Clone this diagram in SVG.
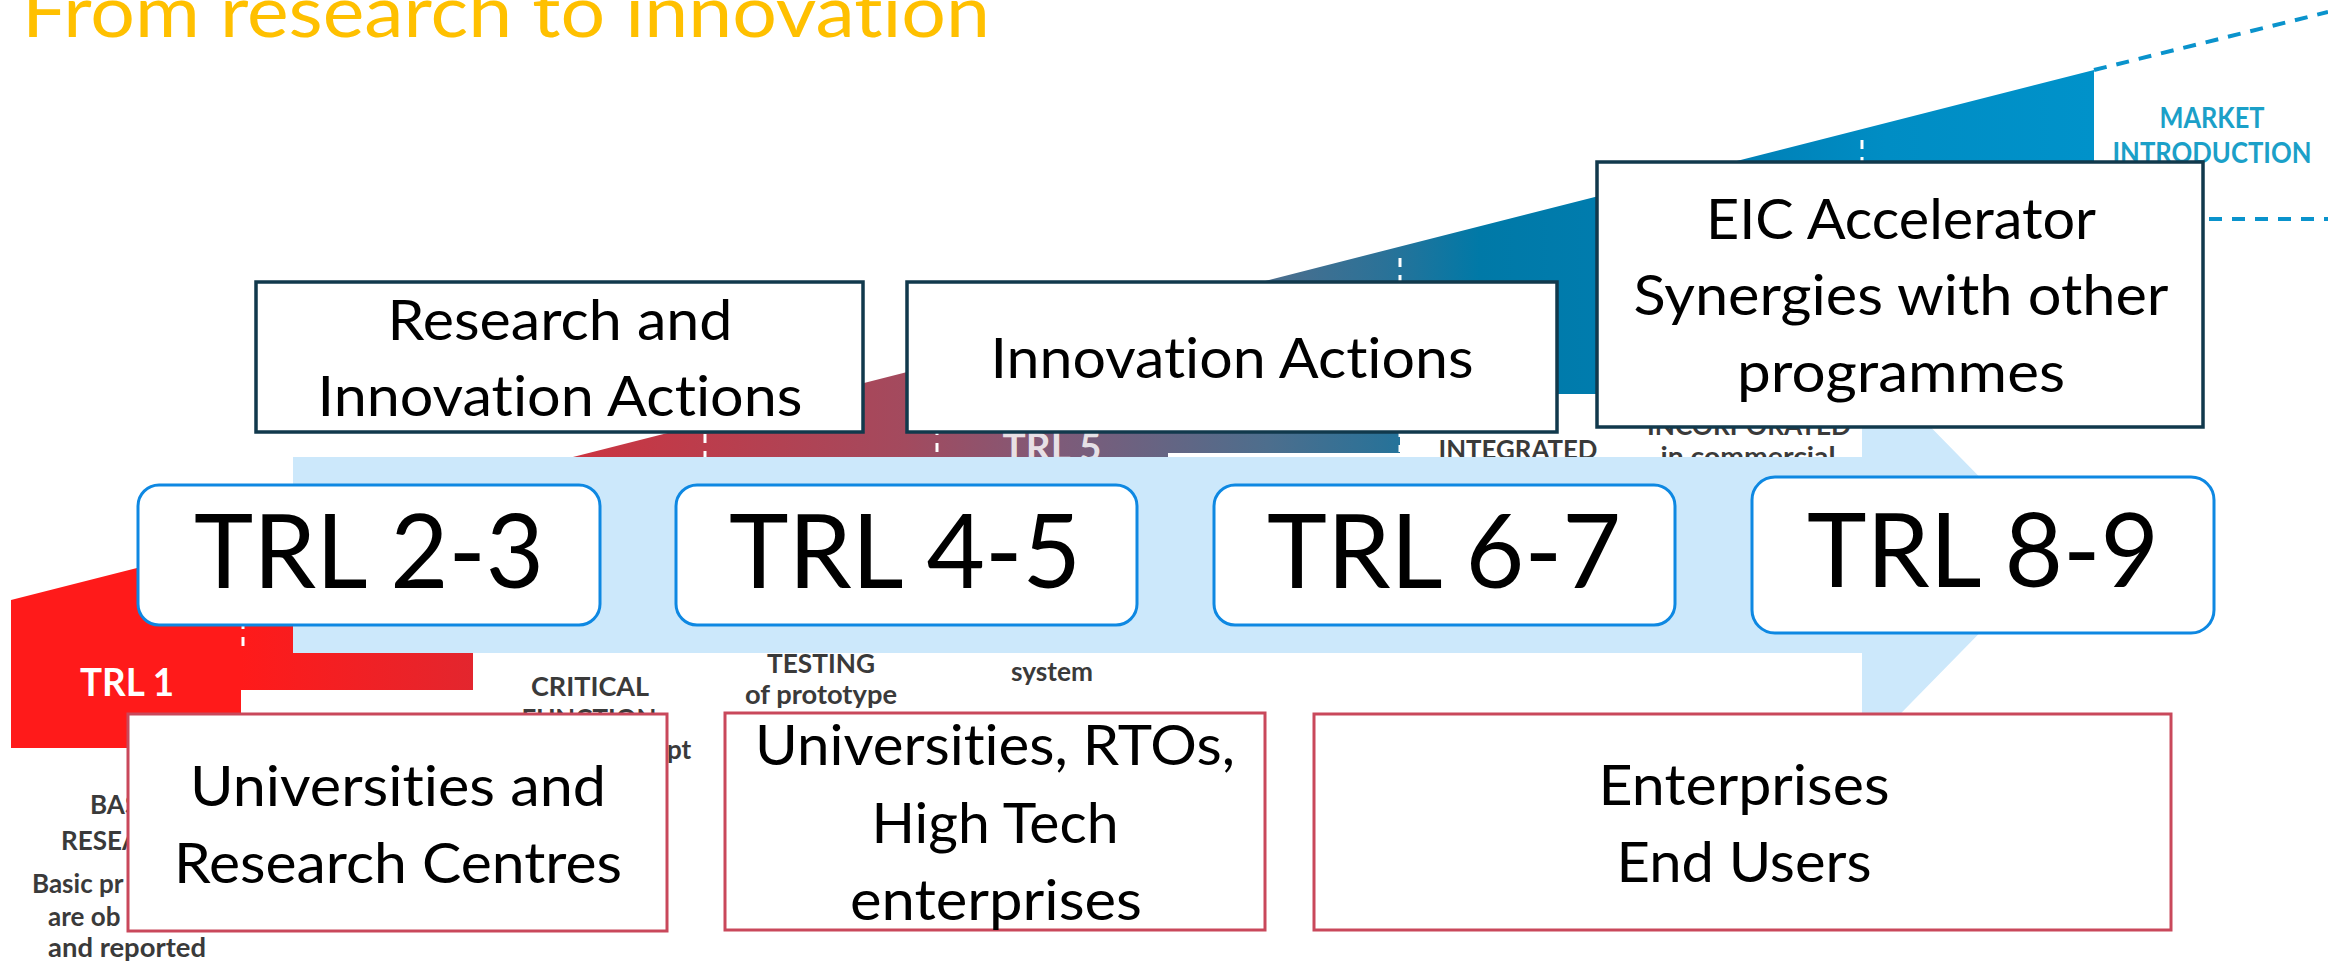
<svg xmlns="http://www.w3.org/2000/svg" width="2328" height="965" viewBox="0 0 2328 965">
<defs>
<linearGradient id="trlGrad" gradientUnits="userSpaceOnUse" x1="11" y1="0" x2="2094" y2="0">
<stop offset="0.11" stop-color="#FF1A1A"/>
<stop offset="0.222" stop-color="#E3262E"/>
<stop offset="0.268" stop-color="#CC3440"/>
<stop offset="0.429" stop-color="#A34A5E"/>
<stop offset="0.499" stop-color="#805A78"/>
<stop offset="0.603" stop-color="#4D6E8D"/>
<stop offset="0.66" stop-color="#2A7298"/>
<stop offset="0.705" stop-color="#0079A7"/>
<stop offset="0.83" stop-color="#0080B6"/>
<stop offset="0.9" stop-color="#008DC4"/>
<stop offset="1" stop-color="#0092CA"/>
</linearGradient>
<style>
text{font-variant-ligatures:none}
.t{font-family:Lato,"Noto Sans","Liberation Sans",sans-serif;text-anchor:middle;fill:#000}
.lbl{font-size:56px}
.trl{font-size:103px}
.trlbox{fill:#fff;stroke:#0E88E2;stroke-width:3}
.prog{fill:#fff;stroke:#11394C;stroke-width:3.5}
.actor{fill:#fff;stroke:#C9485B;stroke-width:3}
.gt{font-family:Lato,"Noto Sans","Liberation Sans",sans-serif;font-weight:700;font-size:26px;fill:#3A3A3A}
.mid{text-anchor:middle}
.sep{stroke:#fff;stroke-width:3;stroke-dasharray:9 8;fill:none}
.mk{stroke:#0A93CC;stroke-width:4;stroke-dasharray:13 10;fill:none}
</style>
</defs>
<rect x="0" y="0" width="2328" height="965" fill="#fff"/>

<g id="title">
<text x="22" y="37" font-family="Lato,'Noto Sans','Liberation Sans',sans-serif" font-size="72" fill="#FFC000" textLength="968" lengthAdjust="spacingAndGlyphs">From research to innovation</text>
</g>

<g id="trl-scale">
<polygon fill="url(#trlGrad)" points="11,600 2094,70 2094,276 1862,276 1862,335 1631,335 1631,394 1400,394 1400,453 1168,453 1168,512 937,512 937,571 705,571 705,630 473,630 473,690 241,690 241,748 11,748"/>
<line class="sep" x1="243" y1="552" x2="243" y2="648"/>
<line class="sep" x1="705" y1="434" x2="705" y2="570"/>
<line class="sep" x1="937" y1="375" x2="937" y2="511"/>
<line class="sep" x1="1400" y1="258" x2="1400" y2="452"/>
<line class="sep" x1="1862" y1="140" x2="1862" y2="334"/>
<line class="mk" x1="2094" y1="70" x2="2328" y2="12"/>
<line class="mk" x1="2094" y1="219" x2="2328" y2="219"/>
<text class="gt mid" x="127" y="696" style="fill:#fff;font-size:39px" textLength="94" lengthAdjust="spacingAndGlyphs">TRL 1</text>
<text class="gt mid" x="1052" y="461" style="fill:#fff;fill-opacity:0.82;font-size:39px" textLength="99" lengthAdjust="spacingAndGlyphs">TRL 5</text>
<text class="gt mid" x="2212" y="128" style="fill:#1BA0C8;font-size:28px" textLength="105" lengthAdjust="spacingAndGlyphs">MARKET</text>
<text class="gt mid" x="2212" y="163" style="fill:#1BA0C8;font-size:28px" textLength="199" lengthAdjust="spacingAndGlyphs">INTRODUCTION</text>
<text class="gt" x="90" y="814">BAS</text>
<text class="gt" x="61" y="850">RESEA</text>
<text class="gt" x="32" y="893">Basic pr</text>
<text class="gt" x="48" y="926">are ob</text>
<text class="gt mid" x="127" y="957" textLength="158" lengthAdjust="spacingAndGlyphs">and reported</text>
<text class="gt mid" x="590" y="696" textLength="118" lengthAdjust="spacingAndGlyphs">CRITICAL</text>
<text class="gt mid" x="589" y="728" textLength="135" lengthAdjust="spacingAndGlyphs">FUNCTION</text>
<text class="gt" x="667" y="759">pt</text>
<text class="gt mid" x="821" y="673" textLength="108" lengthAdjust="spacingAndGlyphs">TESTING</text>
<text class="gt mid" x="821" y="704" textLength="152" lengthAdjust="spacingAndGlyphs">of prototype</text>
<text class="gt mid" x="1052" y="681" textLength="82" lengthAdjust="spacingAndGlyphs">system</text>
<text class="gt mid" x="1518" y="459" textLength="159" lengthAdjust="spacingAndGlyphs">INTEGRATED</text>
<text class="gt mid" x="1749" y="435" textLength="204" lengthAdjust="spacingAndGlyphs">INCORPORATED</text>
<text class="gt mid" x="1748" y="466" textLength="175" lengthAdjust="spacingAndGlyphs">in commercial</text>
</g>

<g id="connectors">
<path id="flow-arrow" d="M293,457 H1862 V357 L2056,555 L1862,753 V653 H293 Z" fill="#CCE8FB"/>
</g>

<g id="node-ria" class="box">
<rect class="prog" x="256" y="282" width="607" height="150"/>
<text class="t lbl" x="560" y="340" textLength="345" lengthAdjust="spacingAndGlyphs">Research and</text>
<text class="t lbl" x="560" y="416" textLength="485" lengthAdjust="spacingAndGlyphs">Innovation Actions</text>
</g>

<g id="node-ia" class="box">
<rect class="prog" x="907" y="282" width="650" height="150"/>
<text class="t lbl" x="1232" y="378" textLength="483" lengthAdjust="spacingAndGlyphs">Innovation Actions</text>
</g>

<g id="node-eic" class="box">
<rect class="prog" x="1597" y="162" width="606" height="265"/>
<text class="t lbl" x="1901" y="239" textLength="390" lengthAdjust="spacingAndGlyphs">EIC Accelerator</text>
<text class="t lbl" x="1901" y="315" textLength="535" lengthAdjust="spacingAndGlyphs">Synergies with other</text>
<text class="t lbl" x="1901" y="392" textLength="328" lengthAdjust="spacingAndGlyphs">programmes</text>
</g>

<g id="node-trl23" class="box">
<rect class="trlbox" x="138" y="485" width="462" height="140" rx="21"/>
<text class="t trl" x="369" y="588" textLength="350" lengthAdjust="spacingAndGlyphs">TRL 2-3</text>
</g>

<g id="node-trl45" class="box">
<rect class="trlbox" x="676" y="485" width="461" height="140" rx="21"/>
<text class="t trl" x="905" y="588" textLength="352" lengthAdjust="spacingAndGlyphs">TRL 4-5</text>
</g>

<g id="node-trl67" class="box">
<rect class="trlbox" x="1214" y="485" width="461" height="140" rx="21"/>
<text class="t trl" x="1444" y="588" textLength="354" lengthAdjust="spacingAndGlyphs">TRL 6-7</text>
</g>

<g id="node-trl89" class="box">
<rect class="trlbox" x="1752" y="477" width="462" height="156" rx="23"/>
<text class="t trl" x="1983" y="587" textLength="352" lengthAdjust="spacingAndGlyphs">TRL 8-9</text>
</g>

<g id="node-universities" class="box">
<rect class="actor" x="128" y="714" width="539" height="217"/>
<text class="t lbl" x="398" y="806" textLength="416" lengthAdjust="spacingAndGlyphs">Universities and</text>
<text class="t lbl" x="398" y="883" textLength="448" lengthAdjust="spacingAndGlyphs">Research Centres</text>
</g>

<g id="node-rtos" class="box">
<rect class="actor" x="725" y="713" width="540" height="217"/>
<text class="t lbl" x="995" y="765" textLength="480" lengthAdjust="spacingAndGlyphs">Universities, RTOs,</text>
<text class="t lbl" x="995" y="843" textLength="247" lengthAdjust="spacingAndGlyphs">High Tech</text>
<text class="t lbl" x="996" y="920" textLength="292" lengthAdjust="spacingAndGlyphs">enterprises</text>
</g>

<g id="node-enterprises" class="box">
<rect class="actor" x="1314" y="714" width="857" height="216"/>
<text class="t lbl" x="1744" y="805" textLength="291" lengthAdjust="spacingAndGlyphs">Enterprises</text>
<text class="t lbl" x="1744" y="882" textLength="255" lengthAdjust="spacingAndGlyphs">End Users</text>
</g>
</svg>
